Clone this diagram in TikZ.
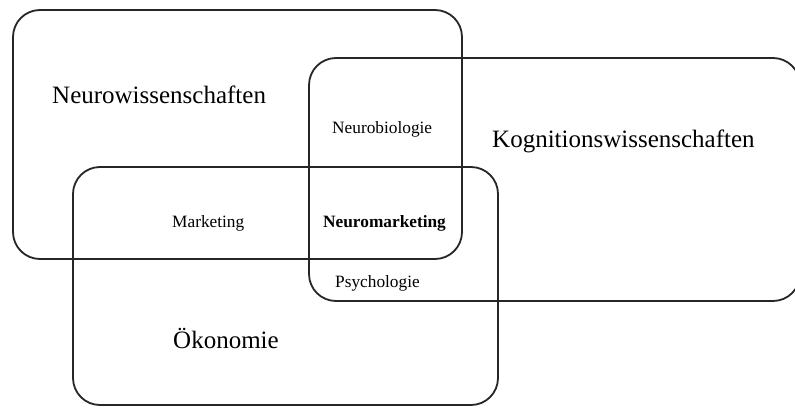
\documentclass[tikz,border=0pt]{standalone}
\usepackage{fontspec}
\setmainfont{Liberation Serif}

\tikzset{
  field/.style={draw=black!85,line width=1.8pt,rounded corners=27pt},
  biglabel/.style={anchor=base west,inner sep=0pt,font=\fontsize{25}{30}\selectfont},
  smalllabel/.style={anchor=base west,inner sep=0pt,font=\fontsize{17.3}{20}\selectfont}
}

\begin{document}
\begin{tikzpicture}[x=1pt,y=-1pt]
\useasboundingbox (0,0) rectangle (795,407);
% the three fields
\draw [field] (13,10) rectangle (462,259);
\draw [field] (309,58) rectangle (800,301);
\draw [field] (73,167) rectangle (498,405);

\node [biglabel] (neuro) at (52,103) {Neurowissenschaften};
\node [biglabel] (kogn) at (492,147) {Kognitionswissenschaften};
\node [biglabel] (oeko) at (173,348) {Ökonomie};

\node [smalllabel] (biol) at (332,133) {Neurobiologie};
\node [smalllabel] (mark) at (172,227) {Marketing};
\node [smalllabel,font=\fontsize{17.3}{20}\selectfont\bfseries] (nmark) at (323,227) {Neuromarketing};
\node [smalllabel] (psych) at (335,287) {Psychologie};
\end{tikzpicture}
\end{document}
